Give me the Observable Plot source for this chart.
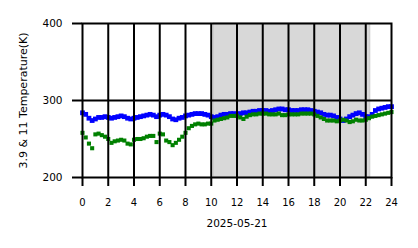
<!DOCTYPE html>
<html>
<head>
<meta charset="utf-8">
<script src="https://cdn.jsdelivr.net/npm/d3@7"></script>
<script src="https://cdn.jsdelivr.net/npm/@observablehq/plot@0.6"></script>
<style>
  html, body { margin: 0; padding: 0; background: #fff; }
  #chart svg { display: block; }
</style>
</head>
<body>
<div id="chart"></div>
<script>
const hourStep = 0.25;
const blueValues = [284,282,277,274,276,278,278,279,278,277,278,279,280,279,277,276,277,278,279,280,281,282,281,279,281,282,281,279,276,275,277,278,280,281,282,283,283,283,282,281,279,278,279,281,282,282,283,283,282,283,284,284,285,286,286,287,287,287,286,287,288,289,289,288,288,287,287,287,288,288,288,287,286,285,284,282,281,281,280,278,276,274,276,279,281,283,284,282,279,279,282,287,289,290,291,292,292];
const greenValues = [258,252,244,238,256,257,255,253,250,245,247,248,249,248,244,243,249,250,250,251,253,254,254,246,257,256,248,246,242,245,249,253,258,264,267,269,270,269,269,270,270,274,275,276,277,278,280,280,280,278,276,279,281,282,282,283,283,283,282,282,282,283,281,281,282,282,282,282,283,283,283,283,282,280,278,276,274,274,274,273,274,275,274,272,273,275,274,274,275,277,279,280,281,282,283,284,285];
const xTicks = [0,2,4,6,8,10,12,14,16,18,20,22,24];
const yTicks = [200,300,400];
const gridX = [2,4,6,8,10,12,14,16,18,20,22];
const gridY = [300];
const shadeSpan = [{start: 10.2, end: 22.35}];
const dateLabel = "2025-05-21";
const yLabel = "3.9 & 11 Temperature(K)";

const blue = blueValues.map((v, i) => ({hour: i * hourStep, temp: v}));
const green = greenValues.map((v, i) => ({hour: i * hourStep, temp: v}));

const font = "DejaVu Sans, sans-serif";

const chart = Plot.plot({
  width: 418,
  height: 248,
  marginLeft: 82,
  marginRight: 27,
  marginTop: 23,
  marginBottom: 71,
  style: {fontFamily: font, fontSize: "10.5px", color: "#000", background: "#fff"},
  x: {domain: [0, 24]},
  y: {domain: [200, 400]},
  marks: [
    Plot.rect(shadeSpan, {x1: "start", x2: "end", y1: 200, y2: 400, fill: "#d8d8d8", stroke: "#c8c8c8", strokeWidth: 1}),
    Plot.dot(blue, {x: "hour", y: "temp", symbol: "square", r: 2.7, fill: "#0000ff", stroke: "none"}),
    Plot.dot(green, {x: "hour", y: "temp", symbol: "square", r: 2.3, fill: "#008000", stroke: "none"}),
    Plot.ruleX(gridX, {stroke: "#000", strokeWidth: 2}),
    Plot.ruleY(gridY, {stroke: "#000", strokeWidth: 2}),
    Plot.frame({stroke: "#000", strokeWidth: 2}),
    Plot.axisX({ticks: xTicks, tickSize: 9, tickPadding: 12, strokeWidth: 2, stroke: "#000", tickFormat: d => String(d), label: null, fontSize: "10px"}),
    Plot.axisY({ticks: yTicks, tickSize: 10, tickPadding: 10, strokeWidth: 2, stroke: "#000", tickFormat: d => String(d), label: null, fontSize: "10.5px"}),
    Plot.text([dateLabel], {frameAnchor: "bottom", dy: 46, lineAnchor: "middle", textAnchor: "middle", text: d => d, fill: "#000", fontSize: "10.5px"}),
    Plot.text([yLabel], {frameAnchor: "left", dx: -59, rotate: -90, lineAnchor: "middle", textAnchor: "middle", text: d => d, fill: "#000", fontSize: "11px"})
  ]
});
document.getElementById("chart").appendChild(chart);
</script>
</body>
</html>
